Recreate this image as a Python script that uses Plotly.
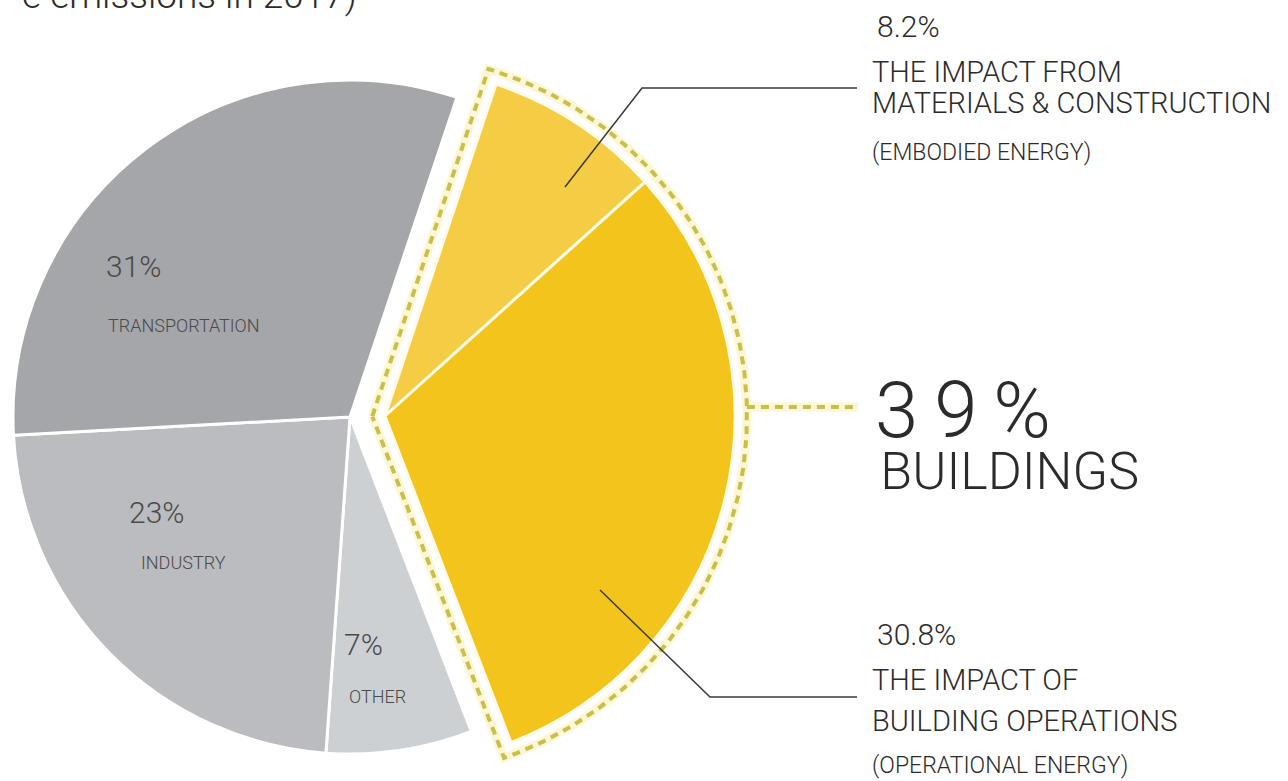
import numpy as np
import plotly.graph_objects as go

# ---------------- data ----------------
segments = ["MATERIALS & CONSTRUCTION", "BUILDING OPERATIONS", "OTHER", "INDUSTRY", "TRANSPORTATION"]
shares = [8.2, 30.8, 7, 23, 31]
building_idx = [0, 1]
grey_idx = [2, 3, 4]
title_fragment = "e emissions in 2017)"

# ---------------- style ----------------
W, H = 1288, 781
FONT = "Roboto"
rotation = 18.5
grey_colors = {"OTHER": "#cdd0d3", "INDUSTRY": "#babcbf", "TRANSPORTATION": "#a4a6a9"}
yellow_colors = ["#f5cd45", "#f3c41b"]
CLEAR = "rgba(0,0,0,0)"
DASH_COL = "#c9bf4c"
HALO_COL = "#fdf7d6"

grey_c, grey_r = (350, 417), 337
yel_c, yel_r = (385, 416), 350


def domain(c, r):
    cx, cy = c
    cyp = H - cy
    return dict(x=[(cx - r) / W, (cx + r) / W], y=[(cyp - r) / H, (cyp + r) / H])


fig = go.Figure()

# grey pie (building part left transparent)
fig.add_trace(go.Pie(
    values=shares, labels=segments, sort=False, direction="clockwise", rotation=rotation,
    marker=dict(colors=[CLEAR if i in building_idx else grey_colors[segments[i]] for i in range(len(shares))],
                line=dict(color="white", width=[0 if i in building_idx else 3 for i in range(len(shares))])),
    textinfo="none", hoverinfo="skip", domain=domain(grey_c, grey_r), showlegend=False))

# yellow pie (buildings, pulled out)
rest = sum(shares[i] for i in grey_idx)
fig.add_trace(go.Pie(
    values=[shares[0], shares[1], rest], labels=[segments[0], segments[1], "rest"], sort=False,
    direction="clockwise", rotation=rotation,
    marker=dict(colors=yellow_colors + [CLEAR], line=dict(color="#fffbe8", width=[3, 3, 0])),
    textinfo="none", hoverinfo="skip", domain=domain(yel_c, yel_r), showlegend=False))

# dashed outline around the buildings wedge (geometry derived from shares)
total = sum(shares)
th1 = np.radians(rotation)
th2 = np.radians(rotation + 360 * (shares[0] + shares[1]) / total)
d, R = 12, yel_r + 12
C = np.array(yel_c, dtype=float)


def u(t):
    return np.array([np.sin(t), -np.cos(t)])


n1, n2 = u(th1 - np.pi / 2), u(th2 + np.pi / 2)
A = np.array([n1, n2])
apex = C + np.linalg.solve(A, np.array([d, d]))
L = np.sqrt(R ** 2 - d ** 2)
E1 = C + d * n1 + L * u(th1)
E2 = C + d * n2 + L * u(th2)
off = np.arcsin(d / R)
ts = np.linspace(th1 - off, th2 + off, 200)
arc = np.array([C + R * u(t) for t in ts])
path = np.vstack([apex, E1, arc, E2, apex])

conn_y = 407
conn_x0 = C[0] + np.sqrt(R ** 2 - (conn_y - C[1]) ** 2)
conn_x1 = 858

for col, wd, dash in [(HALO_COL, 9, "solid"), (DASH_COL, 4, "8px,6px")]:
    fig.add_trace(go.Scatter(x=path[:, 0], y=path[:, 1], mode="lines",
                             line=dict(color=col, width=wd, dash=dash), hoverinfo="skip", showlegend=False))
    fig.add_trace(go.Scatter(x=[conn_x0, conn_x1], y=[conn_y, conn_y], mode="lines",
                             line=dict(color=col, width=wd, dash=dash), hoverinfo="skip", showlegend=False))

# leader lines
shapes = [
    dict(type="path", path="M 565 187 L 642 88 L 857 88", xref="x", yref="y", layer="above",
         line=dict(color="#3a3a3a", width=1.5)),
    dict(type="path", path="M 600 590 L 710 697 L 857 697", xref="x", yref="y", layer="above",
         line=dict(color="#3a3a3a", width=1.5)),
]


def pct(v):
    return f"{v:g}%"


DARK = "#2b2b2b"
GREYTXT = "#4a4a4a"
ann = []


def add(text, x, y, size, color=DARK, anchor="left", yanchor="middle", yshift=0):
    ann.append(dict(text=text, x=x, y=y, xref="x", yref="y", showarrow=False, xanchor=anchor,
                    yanchor=yanchor, yshift=yshift, align="left",
                    font=dict(family=FONT, size=size, color=color, weight=300)))


# title fragment (cut at top)
add(title_fragment, 359, 0, 37, DARK, "right", yshift=5)

# grey slice labels
add(pct(shares[4]), 104, 266, 30, GREYTXT)
add(segments[4], 106, 325, 18, GREYTXT)
add(pct(shares[3]), 127, 512, 30, GREYTXT)
add(segments[3], 139, 562, 18, GREYTXT)
add(pct(shares[2]), 342, 644, 30, GREYTXT)
add(segments[2], 347, 696, 18, GREYTXT)

# right side labels
big = "\u2009".join(list(str(int(round(shares[0] + shares[1])))) + ["%"])
add(f"<span style='font-size:78px'>{big}</span><br><span style='font-size:52px'>\u200aBUILDINGS</span>",
    873, 433, 40)
add(pct(shares[0]), 875, 26, 30)
add("THE IMPACT FROM", 870, 72, 29)
add(segments[0], 870, 103, 29)
add("(EMBODIED ENERGY)", 870, 152, 23)
add(pct(shares[1]), 875, 634, 30)
add("THE IMPACT OF", 870, 680, 29)
add(segments[1], 870, 721, 29)
add("(OPERATIONAL ENERGY)", 870, 765, 23)

fig.update_layout(
    width=W, height=H, margin=dict(l=0, r=0, t=0, b=0),
    paper_bgcolor="white", plot_bgcolor="white",
    xaxis=dict(range=[0, W], visible=False, fixedrange=True),
    yaxis=dict(range=[H, 0], visible=False, fixedrange=True),
    shapes=shapes, annotations=ann, showlegend=False,
)

fig.write_html("out.html", config={"displayModeBar": False},
               post_script="document.body.style.margin='0';")
